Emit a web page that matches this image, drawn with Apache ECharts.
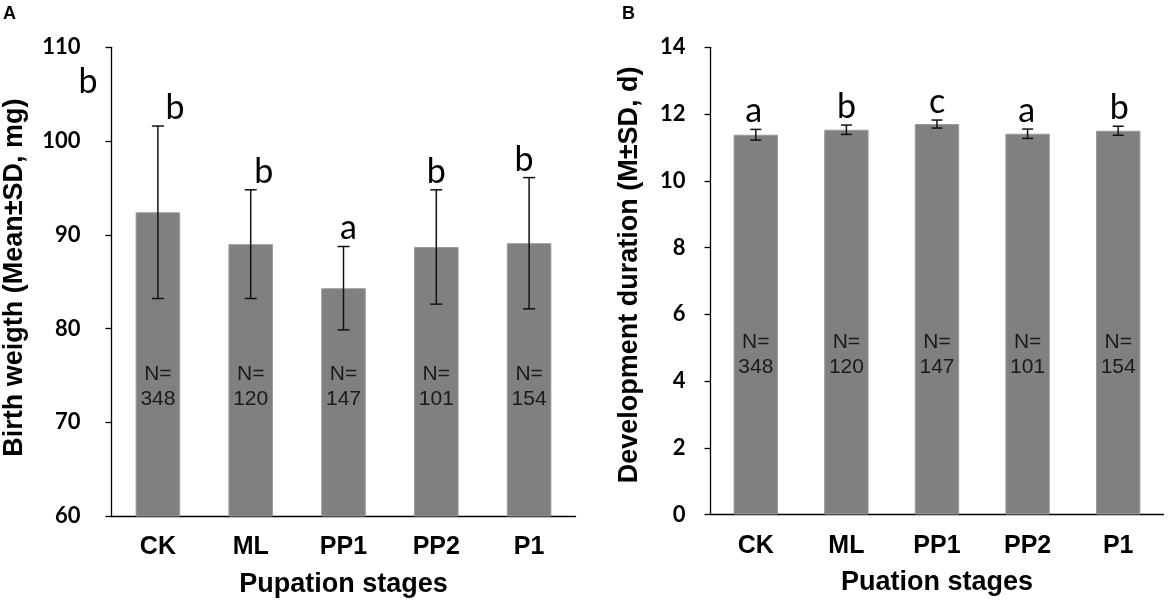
<!DOCTYPE html>
<html>
<head>
<meta charset="utf-8">
<script src="https://cdn.jsdelivr.net/npm/echarts@6/dist/echarts.min.js"></script>
<style>
  html, body { margin: 0; padding: 0; background: #fff; }
  #main { width: 1170px; height: 605px; }
</style>
</head>
<body>
<div id="main"></div>
<script>
// data
var stages = ['CK', 'ML', 'PP1', 'PP2', 'P1'];
var sampleN = [348, 120, 147, 101, 154];

// panel A: birth weight (mg)
var weightMean = [92.4, 89.0, 84.3, 88.7, 89.1];
var weightSD = [9.2, 5.8, 4.45, 6.1, 7.0];
var weightLetters = ['b', 'b', 'a', 'b', 'b'];

// panel B: development duration (d)
var durationMean = [11.38, 11.53, 11.70, 11.41, 11.50];
var durationSD = [0.16, 0.14, 0.12, 0.14, 0.135];
var durationLetters = ['a', 'b', 'c', 'a', 'b'];

var chart = echarts.init(document.getElementById('main'));

var BAR = '#808080';
var TICK_FONT = 'Lato';
var ARIAL = '"Liberation Sans", Arial, sans-serif';

function errData(mean, sd) {
  return mean.map(function (m, i) { return [i, m - sd[i], m + sd[i]]; });
}

function errRender(capHalf) {
  return function (params, api) {
    var top = api.coord([api.value(0), api.value(2)]);
    var bot = api.coord([api.value(0), api.value(1)]);
    var st = { stroke: '#111', lineWidth: 1.5 };
    return {
      type: 'group',
      children: [
        { type: 'line', shape: { x1: top[0], y1: top[1], x2: bot[0], y2: bot[1] }, style: st },
        { type: 'line', shape: { x1: top[0] - capHalf, y1: top[1], x2: top[0] + capHalf, y2: top[1] }, style: st },
        { type: 'line', shape: { x1: bot[0] - capHalf, y1: bot[1], x2: bot[0] + capHalf, y2: bot[1] }, style: st }
      ]
    };
  };
}

function letterRender(letters, shift) {
  return function (params, api) {
    var i = api.value(0);
    var p = api.coord([i, api.value(2)]);
    return {
      type: 'text',
      x: p[0] + shift[i],
      y: p[1] - 18,
      style: {
        text: letters[i],
        font: '34px Lato',
        fill: '#000',
        align: 'center',
        verticalAlign: 'middle'
      }
    };
  };
}

function nRender(level) {
  return function (params, api) {
    var i = api.value(0);
    var p = api.coord([i, level]);
    return {
      type: 'text',
      x: p[0],
      y: p[1],
      style: {
        text: 'N=\n' + sampleN[i],
        fontFamily: ARIAL,
        fontSize: 21,
        lineHeight: 25,
        fill: '#1a1a1a',
        align: 'center',
        verticalAlign: 'middle'
      }
    };
  };
}

function xAxisCfg(grid, name) {
  return {
    type: 'category',
    gridIndex: grid,
    data: stages,
    name: name,
    nameLocation: 'middle',
    nameGap: 55,
    nameTextStyle: { fontFamily: ARIAL, fontWeight: 'bold', fontSize: 27, color: '#000' },
    axisLine: { lineStyle: { color: '#000', width: 1.3 } },
    axisTick: { show: false },
    axisLabel: { margin: 19, fontFamily: ARIAL, fontWeight: 'bold', fontSize: 25, color: '#000' }
  };
}

function yAxisCfg(grid, name, min, max, step, gap, margin, shiftUp) {
  return {
    type: 'value',
    gridIndex: grid,
    min: min,
    max: max,
    interval: step,
    name: name,
    nameLocation: 'middle',
    nameGap: gap,
    nameTextStyle: {
      fontFamily: ARIAL, fontWeight: 'bold', fontSize: 27, color: '#000',
      padding: [0, 0, 0, shiftUp]
    },
    axisLine: { show: true, lineStyle: { color: '#000', width: 1.3 } },
    axisTick: { show: true, inside: false, length: 6, lineStyle: { color: '#000', width: 1.3 } },
    splitLine: { show: false },
    axisLabel: { margin: margin, fontFamily: TICK_FONT, fontWeight: 'bold', fontSize: 22, color: '#000' }
  };
}

var option = {
  animation: false,
  backgroundColor: '#fff',
  grid: [
    { left: 111.5, top: 47.3, width: 464, height: 468.7 },
    { left: 710.5, top: 47.3, width: 453, height: 467.2 }
  ],
  xAxis: [
    xAxisCfg(0, 'Pupation stages'),
    xAxisCfg(1, 'Puation stages')
  ],
  yAxis: [
    yAxisCfg(0, 'Birth weigth (Mean\u00B1SD, mg)', 60, 110, 10, 83, 31, 8),
    yAxisCfg(1, 'Development duration (M\u00B1SD, d)', 0, 14, 2, 67, 25, 12)
  ],
  graphic: [
    { type: 'text', x: 3, y: 5, style: { text: 'A', font: 'bold 18px Arial', fill: '#000' } },
    { type: 'text', x: 622, y: 5, style: { text: 'B', font: 'bold 18px Arial', fill: '#000' } },
    // stray letter left of the axis in panel A
    { type: 'text', x: 88, y: 82, style: { text: 'b', font: '34px Lato', fill: '#000', align: 'center', verticalAlign: 'middle' } }
  ],
  series: [
    {
      type: 'bar', xAxisIndex: 0, yAxisIndex: 0,
      data: weightMean, barWidth: '48%',
      itemStyle: { color: BAR, borderColor: '#9a9a9a', borderWidth: 1 }
    },
    {
      type: 'custom', xAxisIndex: 0, yAxisIndex: 0, z: 5,
      data: errData(weightMean, weightSD), renderItem: errRender(6)
    },
    {
      type: 'custom', xAxisIndex: 0, yAxisIndex: 0, z: 6,
      data: errData(weightMean, weightSD), renderItem: letterRender(weightLetters, [17, 13, 5, 0, -5])
    },
    {
      type: 'custom', xAxisIndex: 0, yAxisIndex: 0, z: 6,
      data: errData(weightMean, weightSD), renderItem: nRender(73.8)
    },
    {
      type: 'bar', xAxisIndex: 1, yAxisIndex: 1,
      data: durationMean, barWidth: '49%',
      itemStyle: { color: BAR, borderColor: '#9a9a9a', borderWidth: 1 }
    },
    {
      type: 'custom', xAxisIndex: 1, yAxisIndex: 1, z: 5,
      data: errData(durationMean, durationSD), renderItem: errRender(5.5)
    },
    {
      type: 'custom', xAxisIndex: 1, yAxisIndex: 1, z: 6,
      data: errData(durationMean, durationSD), renderItem: letterRender(durationLetters, [-2, 0, 0, -1, 1])
    },
    {
      type: 'custom', xAxisIndex: 1, yAxisIndex: 1, z: 6,
      data: errData(durationMean, durationSD), renderItem: nRender(4.79)
    }
  ]
};

chart.setOption(option);
</script>
</body>
</html>
